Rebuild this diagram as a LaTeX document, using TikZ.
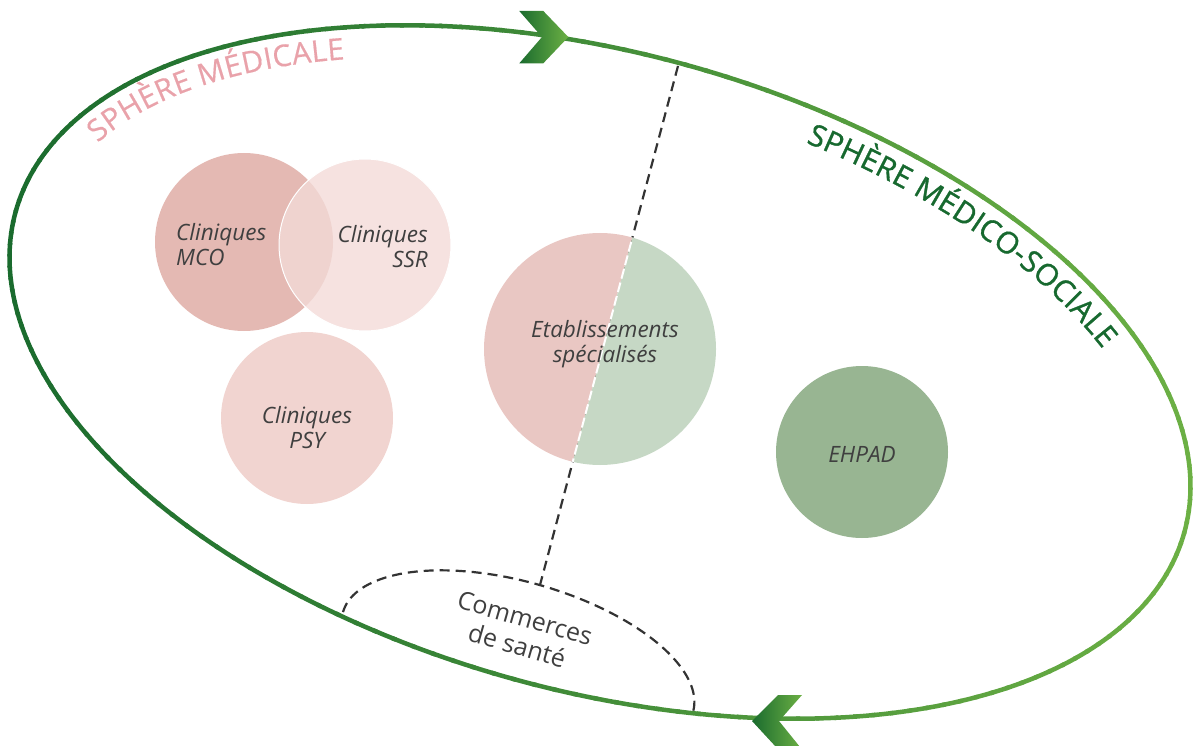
\documentclass[tikz,border=0pt]{standalone}
\usepackage{fontspec}
\setmainfont{Open Sans}
\newfontfamily\titlefont[FakeBold=0.5]{Open Sans}
\newfontfamily\titlefontB[FakeBold=1.1]{Open Sans}
\usetikzlibrary{decorations.text}
\definecolor{gdark}{HTML}{1A6B2E}
\definecolor{glight}{HTML}{6CB044}
\definecolor{tpink}{HTML}{E9A2AA}
\definecolor{tgreen}{HTML}{17692F}
\definecolor{txt}{HTML}{3F3F3F}
\definecolor{cmco}{HTML}{E4B9B3}
\definecolor{cssr}{HTML}{F6E2E0}
\definecolor{clens}{HTML}{EFD3CF}
\definecolor{cpsy}{HTML}{F1D4D0}
\definecolor{cetabp}{HTML}{E9C7C3}
\definecolor{cetabg}{HTML}{C6D8C5}
\definecolor{cehpad}{HTML}{98B592}
\definecolor{cdash}{HTML}{333333}
\begin{document}
\begin{tikzpicture}[x=1pt,y=-1pt,
  bubble/.style={circle, inner sep=0pt, minimum size=#1},
  lbl/.style={font=\fontsize{22.5}{25}\selectfont\itshape, text=txt, inner sep=0pt},
  divider/.style={cdash, line width=2.2pt, dash pattern=on 10pt off 6pt},
  chevron/.style={left color=gdark, right color=glight},
]
\useasboundingbox (0,0) rectangle (1194,746);

% dashed "Commerces de sante" arc
\draw[divider] plot[domain=180:360, samples=80] ({518+182*cos(\x)*cos(15.9)-80*sin(\x)*sin(15.9)},{662+182*cos(\x)*sin(15.9)+80*sin(\x)*cos(15.9)});

% big ellipse with horizontal colour gradient
\foreach \i in {0,...,179} {
  \pgfmathsetmacro\ta{\i*2}
  \pgfmathsetmacro\tb{\i*2+2.4}
  \pgfmathsetmacro\xm{600+606*cos(\ta+1)*cos(15.3)-319*sin(\ta+1)*sin(15.3)}
  \pgfmathsetmacro\pp{max(0,min(100,(\xm-10)/11.82))}
  \colorlet{segc}{glight!\pp!gdark}
  \draw[segc, line width=4.5pt] plot[domain=\ta:\tb, samples=3] ({600+606*cos(\x)*cos(15.3)-319*sin(\x)*sin(15.3)},{372+606*cos(\x)*sin(15.3)+319*sin(\x)*cos(15.3)});
}

% chevron arrows
\shade[chevron] (519.3,11) -- (543.3,11) -- (568.3,37) -- (543.3,63.3) -- (519.3,63.3) -- (542,37) -- cycle;
\shade[chevron] (752,721) -- (778,695) -- (802,695) -- (779,721) -- (800,747) -- (776,747) -- cycle;

% divider
\coordinate (divtop) at (678,66);
\coordinate (divbot) at (540,585);
\draw[divider] (divtop) -- (divbot);

% circles
\node[bubble=178, fill=cmco] (mco) at (244,242) {};
\node[bubble=172, fill=cssr] (ssr) at (365,245) {};
\begin{scope}
  \clip (mco.center) circle (89);
  \fill[clens] (ssr.center) circle (86);
\end{scope}
\draw[white, line width=1pt] (ssr.center) circle (86);
\node[bubble=172, fill=cpsy] (psy) at (307,418) {};
\node[bubble=232] (etab) at (600,349) {};
\begin{scope}
  \clip (etab.center) circle (116);
  \fill[cetabp] (divtop) -- (divbot) -- (400,585) -- (400,66) -- cycle;
  \fill[cetabg] (divtop) -- (divbot) -- (800,585) -- (800,66) -- cycle;
  \draw[white, line width=2pt, dash pattern=on 10pt off 4pt] (divtop) -- (divbot);
\end{scope}
\node[bubble=172, fill=cehpad] (ehpad) at (862,452) {};

% labels
\node[lbl, align=left, anchor=west] (mcotxt) at (176,245) {Cliniques\\MCO};
\node[lbl, align=right, anchor=east] (ssrtxt) at (428,247) {Cliniques\\SSR};
\node[lbl, align=center] (psytxt) at (307,428) {Cliniques\\PSY};
\node[lbl, align=center] (etabtxt) at (605,344) {Etablissements\\spécialisés};
\node[lbl] (ehpadtxt) at (862,454) {EHPAD};
\node[font=\fontsize{25}{29}\selectfont, text=txt, align=center, rotate=-16, inner sep=0pt] (comtxt) at (521,632) {Commerces\\de santé};

% titles along the ellipse
\path[decorate, decoration={text along path, text align={fit to path}, text={|\titlefont\fontsize{30}{34}\selectfont\color{tpink}|SPHÈRE MÉDICALE}}]
  plot[domain=198:235, samples=40] ({600+573*cos(\x)*cos(15.3)-286*sin(\x)*sin(15.3)},{372+573*cos(\x)*sin(15.3)+286*sin(\x)*cos(15.3)});
\path[decorate, decoration={text along path, text align={fit to path}, text={|\titlefontB\fontsize{30}{34}\selectfont\color{tgreen}|SPHÈRE MÉDICO-SOCIALE}}]
  plot[domain=284:327, samples=40] ({600+571*cos(\x)*cos(15.3)-284*sin(\x)*sin(15.3)},{372+571*cos(\x)*sin(15.3)+284*sin(\x)*cos(15.3)});
\end{tikzpicture}
\end{document}
